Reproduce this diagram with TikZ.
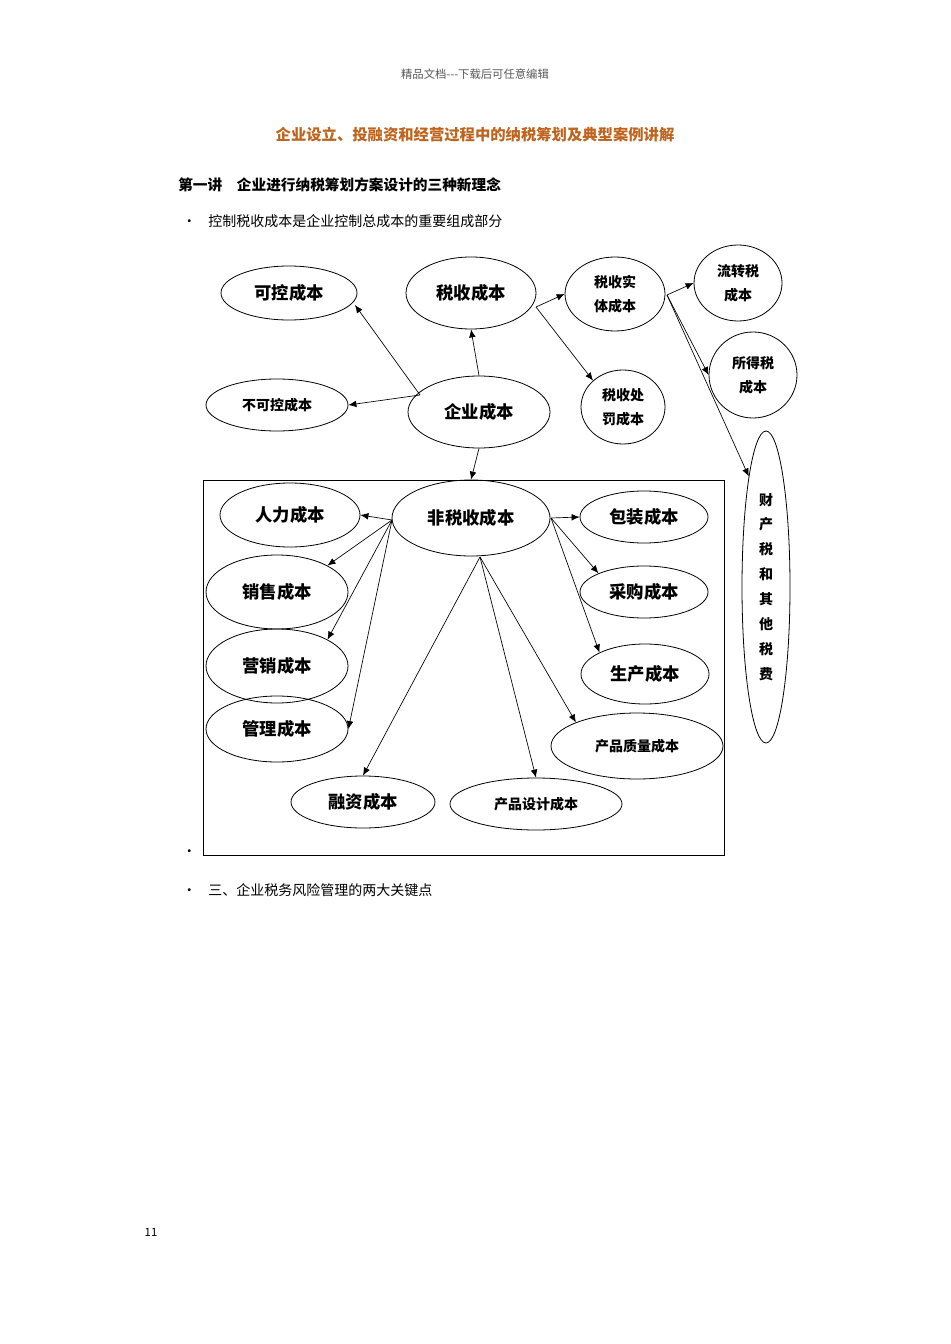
\documentclass[tikz,border=0pt]{standalone}
\usepackage{fontspec}
\setmainfont{Noto Sans CJK SC}
\newfontfamily\cjk{Noto Sans CJK SC}
\usetikzlibrary{arrows.meta}
\begin{document}
\begin{tikzpicture}[x=0.75pt,y=-0.75pt,
  el/.style={draw,ellipse,inner sep=0pt,line width=0.6pt},
  big/.style={font=\cjk\bfseries\fontsize{13}{15}\selectfont},
  sm/.style={font=\cjk\bfseries\fontsize{10.5}{18}\selectfont,align=center},
  arr/.style={-{Latex[length=6pt,width=5pt]},line width=0.5pt},
  txt/.style={anchor=west,font=\cjk\fontsize{10.5}{12}\selectfont,inner sep=0pt}]
\usetikzlibrary{shapes.geometric}
\useasboundingbox[fill=white] (0,0) rectangle (950,1344);
\node[font=\cjk\fontsize{8.5}{10}\selectfont,text=black!65] (hdr) at (475,74) {精品文档---下载后可任意编辑};
\node[font=\cjk\bfseries\fontsize{11.5}{13}\selectfont,text={rgb,255:red,190;green,100;blue,30}] (title) at (475,135) {企业设立、投融资和经营过程中的纳税筹划及典型案例讲解};
\node[txt,font=\cjk\bfseries\fontsize{11}{13}\selectfont] (lec) at (178,185) {第一讲\quad 企业进行纳税筹划方案设计的三种新理念};
\node[txt] (b1) at (182,221) {·\hspace{9pt}控制税收成本是企业控制总成本的重要组成部分};
\node[txt] (b2) at (182,853) {·};
\node[txt] (b3) at (182,890) {·\hspace{9pt}三、企业税务风险管理的两大关键点};
\node[font=\cjk\fontsize{8.5}{10}\selectfont] (pg) at (151,1232) {11};
\draw[line width=0.6pt] (203,480) rectangle (724,855);
\node[el,big,minimum width=136pt*0.75,minimum height=54pt*0.75] (kk) at (289,293) {可控成本};
\node[el,big,minimum width=130pt*0.75,minimum height=72pt*0.75] (ss) at (471,293) {税收成本};
\node[el,sm,minimum width=100pt*0.75,minimum height=74pt*0.75] (st) at (615,294) {税收实\\体成本};
\node[el,sm,minimum width=88pt*0.75,minimum height=76pt*0.75] (lz) at (738,283) {流转税\\成本};
\node[el,sm,minimum width=88pt*0.75,minimum height=86pt*0.75] (sd) at (753,375) {所得税\\成本};
\node[el,sm,minimum width=142pt*0.75,minimum height=52pt*0.75] (bk) at (277,405) {不可控成本};
\node[el,big,minimum width=142pt*0.75,minimum height=72pt*0.75] (qy) at (479,412) {企业成本};
\node[el,sm,minimum width=84pt*0.75,minimum height=74pt*0.75] (cf) at (623,407) {税收处\\罚成本};
\node[el,sm,font=\cjk\bfseries\fontsize{10.5}{18.7}\selectfont,minimum width=48pt*0.75,minimum height=312pt*0.75] (cc) at (766,587) {财\\产\\税\\和\\其\\他\\税\\费};
\node[el,big,minimum width=140pt*0.75,minimum height=64pt*0.75] (rl) at (290,515) {人力成本};
\node[el,big,minimum width=158pt*0.75,minimum height=76pt*0.75] (fs) at (471,518) {非税收成本};
\node[el,big,minimum width=128pt*0.75,minimum height=52pt*0.75] (bz) at (644,517) {包装成本};
\node[el,big,minimum width=142pt*0.75,minimum height=74pt*0.75] (xs) at (277,592) {销售成本};
\node[el,big,minimum width=128pt*0.75,minimum height=52pt*0.75] (cg) at (644,592) {采购成本};
\node[el,big,minimum width=142pt*0.75,minimum height=74pt*0.75] (yx) at (277,666) {营销成本};
\node[el,big,minimum width=128pt*0.75,minimum height=60pt*0.75] (sc) at (645,674) {生产成本};
\node[el,big,minimum width=142pt*0.75,minimum height=66pt*0.75] (gl) at (277,729) {管理成本};
\node[el,sm,minimum width=172pt*0.75,minimum height=66pt*0.75] (zl) at (637,746) {产品质量成本};
\node[el,big,minimum width=144pt*0.75,minimum height=52pt*0.75] (rz) at (363,802) {融资成本};
\node[el,sm,minimum width=172pt*0.75,minimum height=52pt*0.75] (sj) at (536,804) {产品设计成本};
\coordinate (q1) at (420,395);
\coordinate (s1) at (536,307);
\coordinate (t1) at (667,295);
\coordinate (f1) at (392,520);
\coordinate (f2) at (551,518);
\coordinate (f3) at (480,557);
\draw[arr] (q1) -- (355,305) coordinate (e1);
\draw[arr] (q1) -- (bk.east);
\draw[arr] (qy.north) -- (ss.south);
\draw[arr] (qy.south) -- (fs.north);
\draw[arr] (s1) -- (st.west);
\draw[arr] (s1) -- (cf.north west);
\draw[arr] (t1) -- (lz.west);
\draw[arr] (t1) -- (sd.west);
\draw[arr] (t1) -- (cc.north west);
\draw[arr] (f1) -- (rl.east);
\draw[arr] (f1) -- (xs.north east);
\draw[arr] (f1) -- (yx.north east);
\draw[arr] (f1) -- (gl.east);
\draw[arr] (f2) -- (bz.west);
\draw[arr] (f2) -- (cg.north west);
\draw[arr] (f2) -- (sc.north west);
\draw[arr] (f3) -- (rz.north);
\draw[arr] (f3) -- (sj.north);
\draw[arr] (f3) -- (zl.north west);
\end{tikzpicture}
\end{document}
